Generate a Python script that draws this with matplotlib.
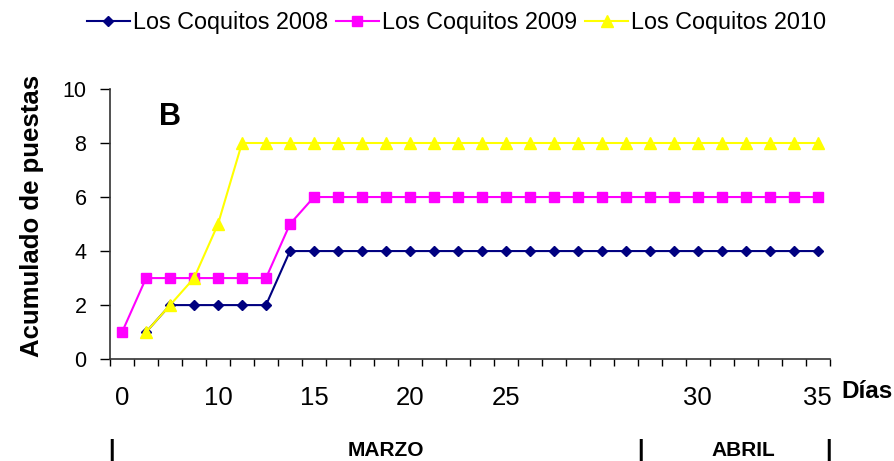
import matplotlib.pyplot as plt
import numpy as np

plt.rcParams['font.family'] = ['Liberation Sans', 'DejaVu Sans']

# Datos: 30 categorías (días), NaN = sin dato
n = 30
coquitos_2008 = [np.nan, 1, 2, 2, 2, 2, 2] + [4] * 23
coquitos_2009 = [1, 3, 3, 3, 3, 3, 3, 5] + [6] * 22
coquitos_2010 = [np.nan, 1, 2, 3, 5] + [8] * 25

# Etiquetas del eje x (posición de categoría -> texto)
label_pos = [0, 4, 8, 12, 16, 24, 29]
label_txt = ["0", "10", "15", "20", "25", "30", "35"]

fig = plt.figure(figsize=(8.95, 4.61), dpi=100)
ax = fig.add_axes([0.123, 0.221, 0.804, 0.586])

x = np.arange(n)
ax.plot(x, coquitos_2008, color='#000080', marker='D', markersize=5.5, linewidth=1.5,
        label='Los Coquitos 2008')
ax.plot(x, coquitos_2009, color='#FF00FF', marker='s', markersize=7.5, linewidth=1.5,
        label='Los Coquitos 2009')
ax.plot(x, coquitos_2010, color='#FFFF00', marker='^', markersize=8.5, linewidth=1.5,
        label='Los Coquitos 2010')

ax.set_xlim(-0.5, n - 0.5)
ax.set_ylim(0, 10)
ax.set_yticks(range(0, 11, 2))
ax.tick_params(axis='y', labelsize=15.5, length=7, direction='out', width=1, pad=10)

# marcas entre categorías (estilo Excel) y etiquetas en posiciones elegidas
ax.set_xticks(np.arange(n + 1) - 0.5)
ax.set_xticklabels([])
ax.tick_params(axis='x', which='major', length=5, direction='out', width=1)
ax.set_xticks(label_pos, minor=True)
ax.set_xticklabels(label_txt, minor=True)
ax.tick_params(axis='x', which='minor', length=0, labelsize=18.5, pad=19)

for s in ['top', 'right']:
    ax.spines[s].set_visible(False)
for s in ['left', 'bottom']:
    ax.spines[s].set_color('#333333')
    ax.spines[s].set_linewidth(1.2)

ax.set_ylabel("Acumulado de puestas", fontsize=18.5, fontweight='bold', labelpad=13)
ax.yaxis.label.set_y(0.53)

ax.text(2.0, 8.95, "B", fontsize=22, fontweight='bold', ha='center', va='center')
fig.text(0.940, 0.150, "Días", fontsize=17.5, fontweight='bold', ha='left', va='center')

# meses
fig.text(0.431, 0.023, "MARZO", fontsize=15, fontweight='bold', ha='center', va='center')
fig.text(0.831, 0.023, "ABRIL", fontsize=15, fontweight='bold', ha='center', va='center')
for xb in [0.125, 0.716, 0.926]:
    fig.text(xb, 0.023, "|", fontsize=17, fontweight='bold', ha='center', va='center')

fig.legend(loc='upper center', bbox_to_anchor=(0.51, 1.022), ncol=3, frameon=False,
           fontsize=16.8, handlelength=1.85, handletextpad=0.12, columnspacing=0.35)

fig.savefig("out.png", dpi=100)
